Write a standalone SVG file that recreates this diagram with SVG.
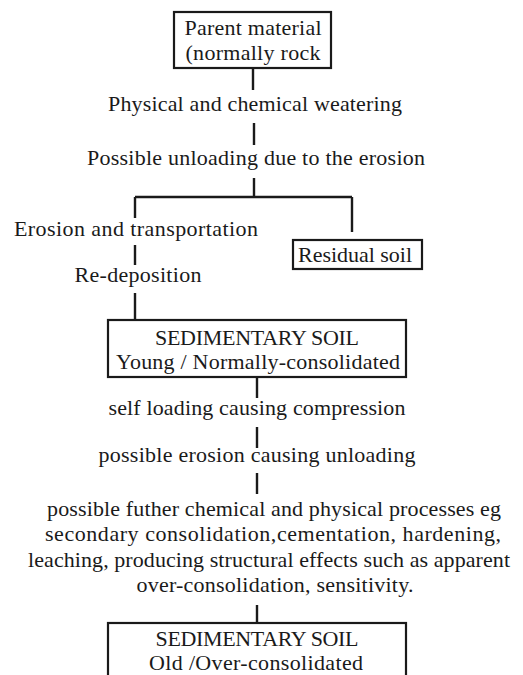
<svg xmlns="http://www.w3.org/2000/svg" width="523" height="675" viewBox="0 0 523 675">
<style>
text{font-family:"Liberation Serif","DejaVu Serif",serif;font-size:22px;fill:#1a1a1a;text-anchor:middle}
.box{fill:#fff;stroke:#1a1a1a;stroke-width:2.2}
.ln{fill:none;stroke:#1a1a1a;stroke-width:2.4}
</style>
<rect width="523" height="675" fill="#fff"/>
<g id="connectors">
<path class="ln" d="M253 68V90M254 123V145M254 178V197M135 197H352M135 197V218M352 197V232M135 245V265M135 293V320M257 377V398M257 427V448M257 473V494M257 605V623"/>
</g>
<g id="parent">
<rect class="box" x="174" y="12" width="157" height="56"/>
<text x="253" y="35" textLength="137">Parent material</text>
<text x="253" y="60" textLength="135">(normally rock</text>
</g>
<g id="weathering"><text x="255" y="111" textLength="294">Physical and chemical weatering</text></g>
<g id="unloading"><text x="256" y="165" textLength="338">Possible unloading due to the erosion</text></g>
<g id="erosion"><text x="136" y="236" textLength="244">Erosion and transportation</text></g>
<g id="redeposition"><text x="138" y="282" textLength="127">Re-deposition</text></g>
<g id="residual">
<rect class="box" x="293" y="240" width="129" height="29"/>
<text x="355" y="262" textLength="114">Residual soil</text>
</g>
<g id="sed-young">
<rect class="box" x="108" y="320" width="298" height="57"/>
<text x="257" y="345" textLength="204">SEDIMENTARY SOIL</text>
<text x="258" y="369" textLength="284">Young / Normally-consolidated</text>
</g>
<g id="selfloading"><text x="257" y="415" textLength="297">self loading causing compression</text></g>
<g id="erosion-unloading"><text x="257" y="462" textLength="317">possible erosion causing unloading</text></g>
<g id="processes">
<text x="274" y="516" textLength="454">possible futher chemical and physical processes eg</text>
<text x="273" y="541" textLength="456">secondary consolidation,cementation, hardening,</text>
<text x="269" y="567" textLength="482">leaching, producing structural effects such as apparent</text>
<text x="275" y="592" textLength="277">over-consolidation, sensitivity.</text>
</g>
<g id="sed-old">
<rect class="box" x="108" y="623" width="298" height="60"/>
<text x="257" y="646" textLength="203">SEDIMENTARY SOIL</text>
<text x="256" y="670" textLength="214">Old /Over-consolidated</text>
</g>
</svg>
